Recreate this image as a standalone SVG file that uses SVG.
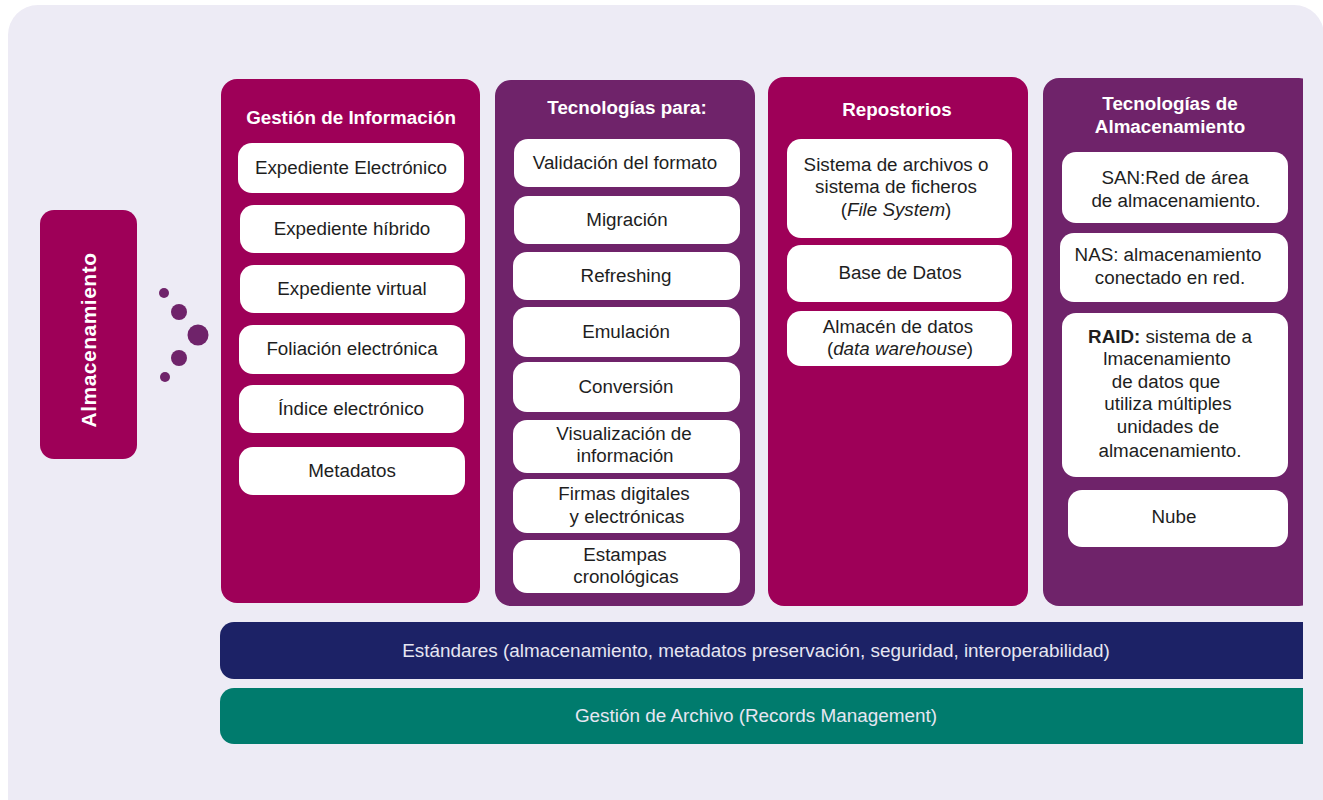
<svg xmlns="http://www.w3.org/2000/svg" width="1323" height="800" viewBox="0 0 1323 800">
<defs>
<clipPath id="cut"><rect x="0" y="0" width="1303" height="800"/></clipPath>
<style>
.mag{fill:#9E0058}
.pur{fill:#6F236A}
.box{fill:#FFFFFF}
.t{font-family:"Liberation Sans",Arial,sans-serif;font-size:18.8px;fill:#1E1E1E;text-anchor:middle}
.h{font-family:"Liberation Sans",Arial,sans-serif;font-size:18.8px;font-weight:bold;fill:#FFFFFF;text-anchor:middle}
.bt{font-family:"Liberation Sans",Arial,sans-serif;font-size:18.9px;fill:#E6E6F2;text-anchor:middle}
.dot{fill:#6F236A}
</style>
</defs>
<rect x="0" y="0" width="1323" height="800" fill="#FFFFFF"/>
<rect x="8" y="5" width="1316" height="830" rx="30" fill="#EDEBF5"/>

<g id="almacenamiento">
<rect x="40" y="210" width="97" height="249" rx="14" class="mag"/>
<text transform="translate(88,340) rotate(-90)" dominant-baseline="central" class="h" style="font-size:21px;letter-spacing:0.5px">Almacenamiento</text>
</g>

<g id="dots">
<circle cx="164" cy="293" r="5" class="dot"/>
<circle cx="179" cy="312" r="8" class="dot"/>
<circle cx="198" cy="335" r="10.5" class="dot"/>
<circle cx="179" cy="358" r="8" class="dot"/>
<circle cx="165" cy="377" r="5" class="dot"/>
</g>

<g id="col-gestion-informacion">
<rect x="221" y="79" width="259" height="524" rx="16" class="mag"/>
<text x="351" y="124" class="h">Gestión de Información</text>
<rect x="238" y="143" width="226" height="50" rx="14" class="box"/>
<text x="351" y="174" class="t">Expediente Electrónico</text>
<rect x="240" y="205" width="225" height="48" rx="14" class="box"/>
<text x="352" y="235" class="t">Expediente híbrido</text>
<rect x="240" y="265" width="225" height="48" rx="14" class="box"/>
<text x="352" y="295" class="t">Expediente virtual</text>
<rect x="239" y="325" width="226" height="49" rx="14" class="box"/>
<text x="352" y="355" class="t">Foliación electrónica</text>
<rect x="239" y="385" width="225" height="48" rx="14" class="box"/>
<text x="351" y="415" class="t">Índice electrónico</text>
<rect x="239" y="447" width="226" height="48" rx="14" class="box"/>
<text x="352" y="477" class="t">Metadatos</text>
</g>

<g id="col-tecnologias-para">
<rect x="495" y="80" width="260" height="526" rx="16" class="pur"/>
<text x="627" y="114" class="h">Tecnologías para:</text>
<rect x="514" y="139" width="226" height="48" rx="14" class="box"/>
<text x="625" y="169" class="t">Validación del formato</text>
<rect x="514" y="196" width="226" height="48" rx="14" class="box"/>
<text x="627" y="226" class="t">Migración</text>
<rect x="513" y="252" width="227" height="48" rx="14" class="box"/>
<text x="626" y="282" class="t">Refreshing</text>
<rect x="513" y="307" width="227" height="50" rx="14" class="box"/>
<text x="626" y="338" class="t">Emulación</text>
<rect x="513" y="362" width="227" height="50" rx="14" class="box"/>
<text x="626" y="393" class="t">Conversión</text>
<rect x="513" y="420" width="227" height="53" rx="14" class="box"/>
<text x="624" y="440" class="t">Visualización de</text>
<text x="625" y="462" class="t">información</text>
<rect x="513" y="479" width="227" height="54" rx="14" class="box"/>
<text x="624" y="500" class="t">Firmas digitales</text>
<text x="627" y="523" class="t">y electrónicas</text>
<rect x="513" y="540" width="227" height="53" rx="14" class="box"/>
<text x="625" y="561" class="t">Estampas</text>
<text x="626" y="583" class="t">cronológicas</text>
</g>

<g id="col-repositorios">
<rect x="768" y="77" width="260" height="529" rx="16" class="mag"/>
<text x="897" y="116" class="h">Repostorios</text>
<rect x="787" y="139" width="225" height="99" rx="14" class="box"/>
<text x="896" y="171" class="t">Sistema de archivos o</text>
<text x="896" y="193" class="t">sistema de ficheros</text>
<text x="896" y="216" class="t">(<tspan font-style="italic">File System</tspan>)</text>
<rect x="787" y="245" width="225" height="57" rx="14" class="box"/>
<text x="900" y="279" class="t">Base de Datos</text>
<rect x="787" y="311" width="225" height="55" rx="14" class="box"/>
<text x="898" y="333" class="t">Almacén de datos</text>
<text x="900" y="355" class="t">(<tspan font-style="italic">data warehouse</tspan>)</text>
</g>

<g id="col-tecnologias-almacenamiento">
<rect x="1043" y="78" width="272" height="528" rx="16" class="pur" clip-path="url(#cut)"/>
<text x="1170" y="110" class="h">Tecnologías de</text>
<text x="1170" y="133" class="h">Almacenamiento</text>
<rect x="1062" y="152" width="226" height="71" rx="14" class="box"/>
<text x="1175" y="184" class="t">SAN:Red de área</text>
<text x="1176" y="207" class="t">de almacenamiento.</text>
<rect x="1060" y="233" width="228" height="69" rx="14" class="box"/>
<text x="1168" y="261" class="t">NAS: almacenamiento</text>
<text x="1170" y="284" class="t">conectado en red.</text>
<rect x="1062" y="313" width="226" height="164" rx="14" class="box"/>
<text x="1170" y="343" class="t"><tspan font-weight="bold">RAID:</tspan> sistema de a</text>
<text x="1167" y="365" class="t">lmacenamiento</text>
<text x="1166" y="388" class="t">de datos que</text>
<text x="1168" y="410" class="t">utiliza múltiples</text>
<text x="1168" y="433" class="t">unidades de</text>
<text x="1170" y="457" class="t">almacenamiento.</text>
<rect x="1068" y="490" width="220" height="57" rx="14" class="box"/>
<text x="1174" y="523" class="t">Nube</text>
</g>

<g id="bar-estandares">
<rect x="220" y="622" width="1100" height="57" rx="14" fill="#1C2266" clip-path="url(#cut)"/>
<text x="756" y="657" class="bt">Estándares (almacenamiento, metadatos preservación, seguridad, interoperabilidad)</text>
</g>

<g id="bar-gestion-archivo">
<rect x="220" y="688" width="1100" height="56" rx="14" fill="#007B6D" clip-path="url(#cut)"/>
<text x="756" y="722" class="bt">Gestión de Archivo (Records Management)</text>
</g>

<g id="connectors"></g>
</svg>
